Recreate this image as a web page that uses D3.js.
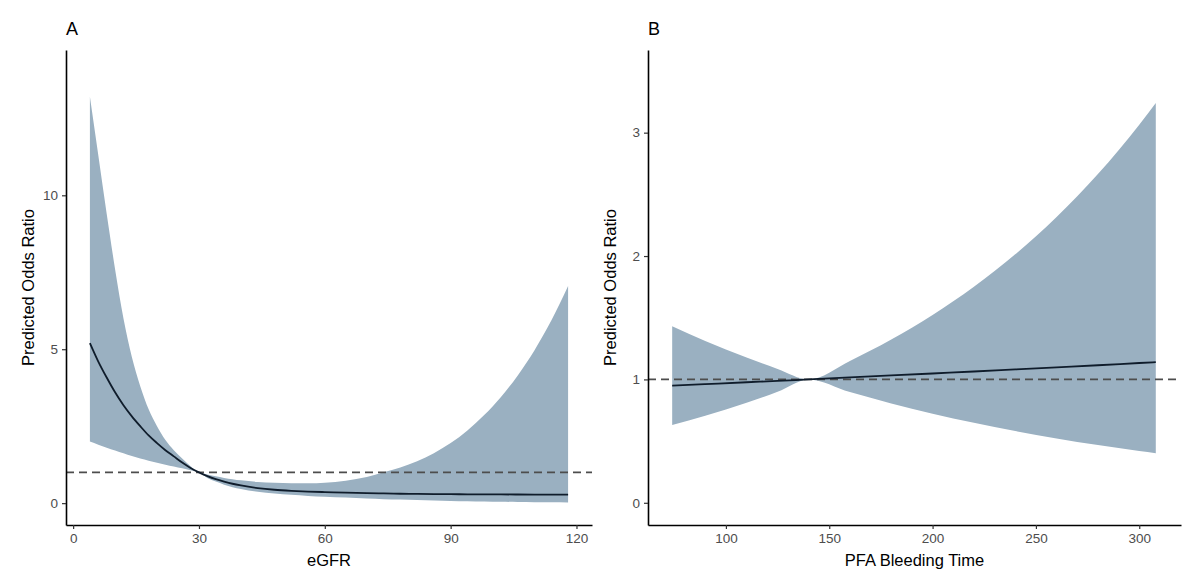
<!DOCTYPE html>
<html>
<head>
<meta charset="utf-8">
<script src="https://cdn.jsdelivr.net/npm/d3@7"></script>
<style>
    body { margin: 0; background: #fff; }
    svg { display: block; font-family: "Liberation Sans", Arial, sans-serif; }
    .tick text { fill: #4d4d4d; font-size: 13.5px; }
    .axis-title { fill: #000; font-size: 16.5px; }
    .panel-tag { fill: #000; font-size: 18px; }
</style>
</head>
<body>
<svg id="chart" width="1200" height="585"></svg>
<script>
// panel A: eGFR
const egfrX = [4, 6, 8, 10, 12, 14, 16, 18, 20, 22, 24, 26, 28, 30, 32, 34, 36, 38, 40, 44, 48, 52, 56, 60,
    65, 70, 74, 78, 82, 86, 90, 94, 98, 102, 106, 110, 114, 118];
const egfrOR = [5.2, 4.6, 4.08, 3.6, 3.18, 2.82, 2.5, 2.2, 1.95, 1.72, 1.52, 1.32, 1.14, 1.0, 0.88, 0.78, 0.70, 0.63, 0.575, 0.49, 0.435, 0.40, 0.375, 0.36,
    0.34, 0.325, 0.315, 0.305, 0.30, 0.295, 0.29, 0.288, 0.285, 0.283, 0.28, 0.278, 0.276, 0.275];
const egfrUpper = [13.2, 11.3, 9.4, 7.6, 6.0, 4.75, 3.8, 3.05, 2.5, 2.05, 1.72, 1.45, 1.2, 1.0, 0.93, 0.87, 0.82, 0.78, 0.74, 0.69, 0.66, 0.645, 0.645, 0.665,
    0.73, 0.85, 1.0, 1.16, 1.36, 1.62, 1.95, 2.36, 2.86, 3.45, 4.15, 4.97, 5.93, 7.05];
const egfrLower = [2.0, 1.9, 1.8, 1.71, 1.62, 1.53, 1.45, 1.38, 1.31, 1.25, 1.19, 1.13, 1.07, 1.0, 0.82, 0.70, 0.60, 0.52, 0.46, 0.37, 0.31, 0.27, 0.235, 0.21,
    0.18, 0.15, 0.13, 0.115, 0.10, 0.085, 0.073, 0.062, 0.053, 0.045, 0.038, 0.032, 0.026, 0.02];
const egfrXTicks = [0, 30, 60, 90, 120];
const egfrYTicks = [0, 5, 10];

// panel B: PFA bleeding time
const pfaX = [74, 90, 110, 125, 140, 160, 180, 200, 220, 240, 260, 280, 300, 308];
const pfaOR = [0.950, 0.962, 0.977, 0.988, 1.0, 1.016, 1.032, 1.048, 1.064, 1.081, 1.098, 1.115, 1.133, 1.140];
const pfaUpper = [1.430, 1.311, 1.177, 1.085, 1.0, 1.150, 1.323, 1.522, 1.751, 2.014, 2.316, 2.664, 3.065, 3.241];
const pfaLower = [0.630, 0.705, 0.811, 0.900, 1.0, 0.897, 0.805, 0.722, 0.648, 0.582, 0.522, 0.468, 0.420, 0.402];
const pfaXTicks = [100, 150, 200, 250, 300];
const pfaYTicks = [0, 1, 2, 3];

const RIBBON_COLOR = '#9ab0c1';
const LINE_COLOR = '#0f1c2b';

class OddsPanel {
    constructor(svg, opts) {
        this.svg = svg;
        this.opts = opts;
        this.rows = opts.xs.map((x, i) => ({ x: x, or: opts.or[i], lo: opts.lower[i], hi: opts.upper[i] }));
        this.x = d3.scaleLinear().domain(opts.xDomain).range([opts.left, opts.right]);
        this.y = d3.scaleLinear().domain(opts.yDomain).range([opts.bottom, opts.top]);
        this.draw();
    }

    draw() {
        let that = this;
        let g = this.svg.append('g');

        let area = d3.area()
            .x(d => that.x(d.x))
            .y0(d => that.y(d.lo))
            .y1(d => that.y(d.hi))
            .curve(d3.curveMonotoneX);
        g.append('path')
            .datum(this.rows)
            .attr('d', area)
            .attr('fill', RIBBON_COLOR);

        // reference line at OR = 1
        g.append('line')
            .attr('x1', this.opts.left)
            .attr('x2', this.opts.right)
            .attr('y1', this.y(1))
            .attr('y2', this.y(1))
            .attr('stroke', '#4d4d4d')
            .attr('stroke-width', 1.8)
            .attr('stroke-dasharray', '8,5');

        let line = d3.line()
            .x(d => that.x(d.x))
            .y(d => that.y(d.or))
            .curve(d3.curveMonotoneX);
        g.append('path')
            .datum(this.rows)
            .attr('d', line)
            .attr('fill', 'none')
            .attr('stroke', LINE_COLOR)
            .attr('stroke-width', 1.8);

        let xAxis = g.append('g')
            .attr('transform', 'translate(0,' + this.opts.bottom + ')')
            .call(d3.axisBottom(this.x).tickValues(this.opts.xTicks).tickFormat(d => d)
                .tickSize(4).tickSizeOuter(0).tickPadding(4));
        let yAxis = g.append('g')
            .attr('transform', 'translate(' + this.opts.left + ',0)')
            .call(d3.axisLeft(this.y).tickValues(this.opts.yTicks).tickFormat(d => d)
                .tickSize(4).tickSizeOuter(0).tickPadding(4));
        [xAxis, yAxis].forEach(ax => {
            ax.select('.domain').attr('stroke', '#000').attr('stroke-width', 1.6);
            ax.selectAll('.tick line').attr('stroke', '#333').attr('stroke-width', 1.2);
            ax.selectAll('.tick text').attr('font-family', null).attr('font-size', null);
        });

        g.append('text')
            .attr('class', 'axis-title')
            .attr('x', (this.opts.left + this.opts.right) / 2)
            .attr('y', 566)
            .attr('text-anchor', 'middle')
            .text(this.opts.xTitle);
        g.append('text')
            .attr('class', 'axis-title')
            .attr('transform', 'translate(' + (this.opts.left - 32) + ',' + ((this.opts.top + this.opts.bottom) / 2) + ') rotate(-90)')
            .attr('text-anchor', 'middle')
            .text('Predicted Odds Ratio');
        g.append('text')
            .attr('class', 'panel-tag')
            .attr('x', this.opts.left)
            .attr('y', 35)
            .text(this.opts.tag);
    }
}

let svg = d3.select('#chart');
new OddsPanel(svg, {
    tag: 'A', xTitle: 'eGFR',
    xs: egfrX, or: egfrOR, lower: egfrLower, upper: egfrUpper,
    xTicks: egfrXTicks, yTicks: egfrYTicks,
    xDomain: [-1.7, 123.7], yDomain: [-0.71, 14.72],
    left: 66, right: 592, top: 50, bottom: 525
});
new OddsPanel(svg, {
    tag: 'B', xTitle: 'PFA Bleeding Time',
    xs: pfaX, or: pfaOR, lower: pfaLower, upper: pfaUpper,
    xTicks: pfaXTicks, yTicks: pfaYTicks,
    xDomain: [62.3, 320.2], yDomain: [-0.18, 3.67],
    left: 648, right: 1181, top: 50, bottom: 525
});
</script>
</body>
</html>
